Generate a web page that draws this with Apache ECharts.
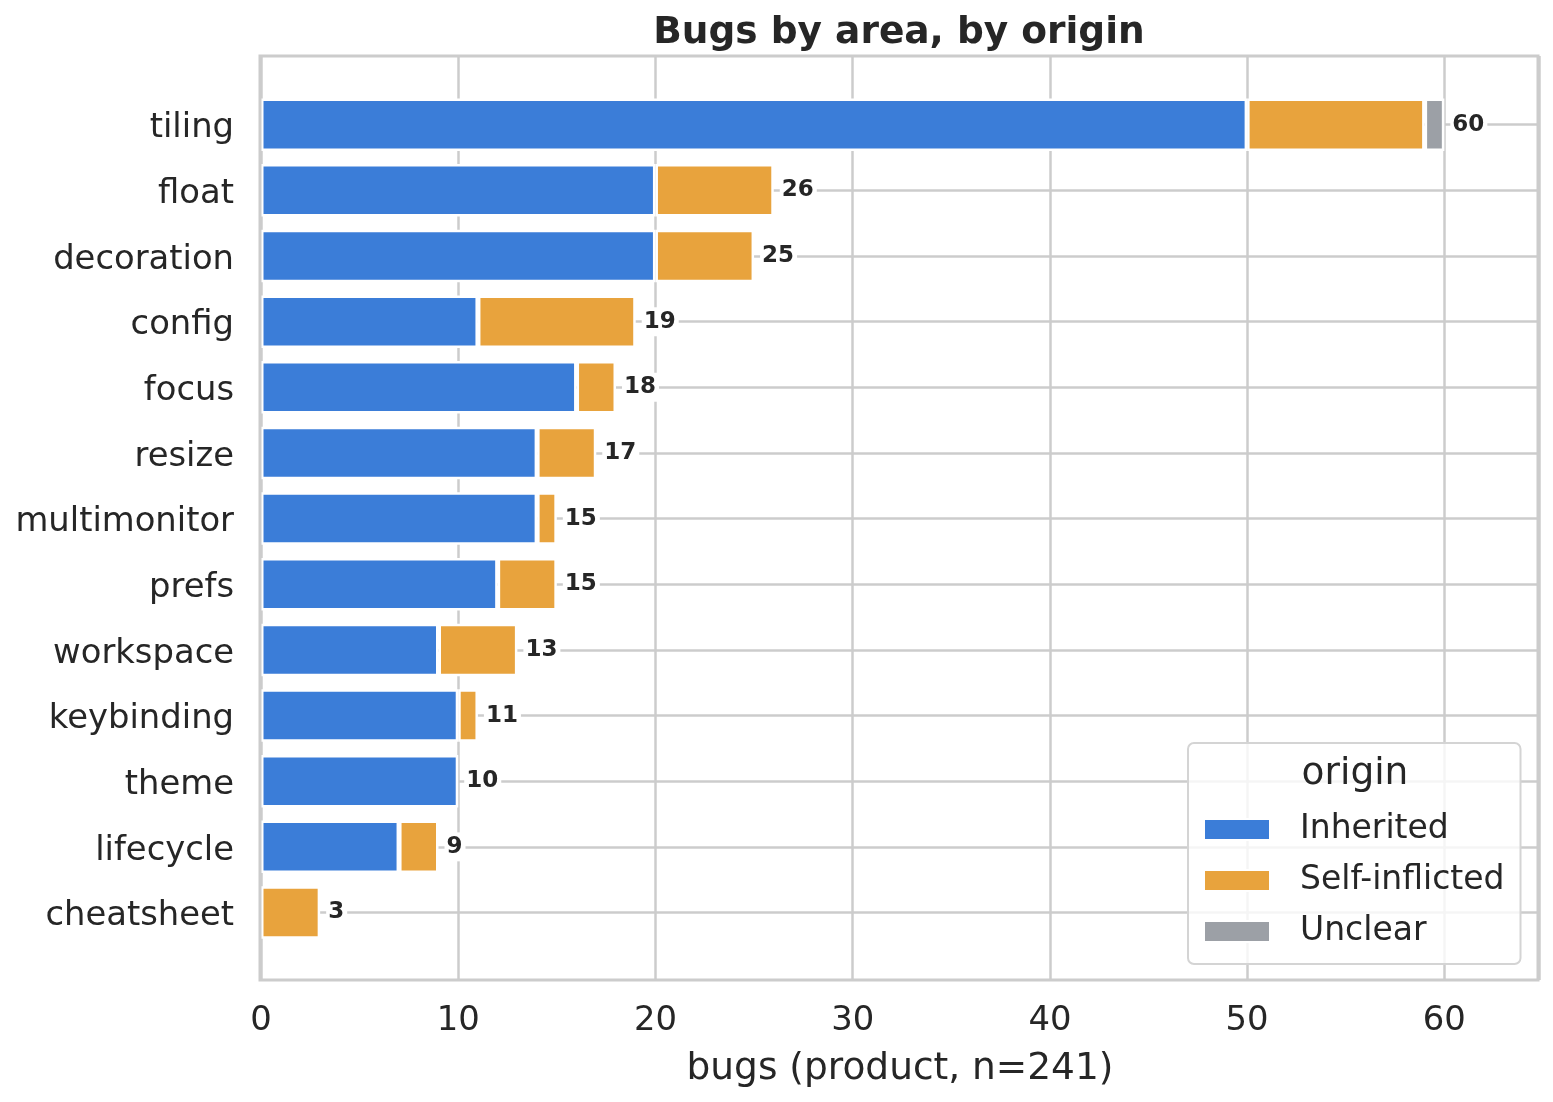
<!DOCTYPE html>
<html>
<head>
<meta charset="utf-8">
<title>Bugs by area, by origin</title>
<script src="https://cdn.jsdelivr.net/npm/echarts@6/dist/echarts.min.js"></script>
<style>
  html, body { margin: 0; padding: 0; background: #fff; }
  #chart { width: 1553px; height: 1102px; }
</style>
</head>
<body>
<div id="chart"></div>
<script>
// 数据
const categories = ['tiling', 'float', 'decoration', 'config', 'focus', 'resize', 'multimonitor',
  'prefs', 'workspace', 'keybinding', 'theme', 'lifecycle', 'cheatsheet'];
const inherited    = [50, 20, 20, 11, 16, 14, 14, 12, 9, 10, 10, 7, 0];
const selfInflicted = [9, 6, 5, 8, 2, 3, 1, 3, 4, 1, 0, 2, 3];
const unclear      = [1, 0, 0, 0, 0, 0, 0, 0, 0, 0, 0, 0, 0];
const xTicks = { min: 0, max: 64.8, interval: 10 };

const FONT = 'DejaVu Sans';
const TEXT = '#262626';
const GRID_LINE = '#cccccc';

// 0 不画
const clean = arr => arr.map(v => (v === 0 ? null : v));
const totals = categories.map((c, i) => inherited[i] + selfInflicted[i] + unclear[i]);

function barSeries(name, data, color) {
  return {
    name: name,
    type: 'bar',
    stack: 'origin',
    xAxisIndex: 0,
    yAxisIndex: 0,
    barWidth: 52.5,
    clip: false,
    itemStyle: { color: color, borderColor: '#fff', borderWidth: 2.5 },
    emphasis: { disabled: true },
    data: clean(data)
  };
}

const option = {
  animation: false,
  textStyle: { fontFamily: FONT, color: TEXT },
  title: {
    text: 'Bugs by area, by origin',
    left: 899,
    top: 14,
    textAlign: 'center',
    padding: 0,
    textStyle: { fontFamily: FONT, fontSize: 37.5, fontWeight: 'bold', color: TEXT }
  },
  legend: {
    data: ['Inherited', 'Self-inflicted', 'Unclear'],
    orient: 'vertical',
    left: 1188,
    top: 743,
    padding: [70, 16, 16, 15],
    itemGap: 18,
    itemWidth: 66,
    itemHeight: 21,
    icon: 'rect',
    backgroundColor: 'rgba(255,255,255,0.8)',
    borderColor: '#d4d4d4',
    borderWidth: 2,
    borderRadius: 6,
    selectedMode: false,
    textStyle: { fontFamily: FONT, fontSize: 33, color: TEXT, padding: [0, 0, 0, 25] }
  },
  grid: [
    // 柱子所在区域 (首尾类目中心)
    { left: 261, right: 14, top: 124.7, height: 787.8, containLabel: false },
    // 外框 + 竖网格线
    { left: 261, right: 14, top: 56, bottom: 122, containLabel: false }
  ],
  xAxis: [
    {
      gridIndex: 0,
      type: 'value',
      min: xTicks.min,
      max: xTicks.max,
      show: false
    },
    {
      gridIndex: 1,
      type: 'value',
      min: xTicks.min,
      max: xTicks.max,
      interval: xTicks.interval,
      name: 'bugs (product, n=241)',
      nameLocation: 'middle',
      nameGap: 70,
      nameTextStyle: { fontFamily: FONT, fontSize: 37.5, color: TEXT },
      axisLine: { show: false },
      axisTick: { show: false },
      axisLabel: { fontFamily: FONT, fontSize: 33.8, color: TEXT, margin: 24, showMaxLabel: false },
      splitLine: { show: true, lineStyle: { color: GRID_LINE, width: 2.5 } }
    }
  ],
  yAxis: [
    {
      gridIndex: 0,
      type: 'category',
      data: categories,
      inverse: true,
      boundaryGap: false,
      axisLine: { show: false },
      axisTick: { show: false },
      axisLabel: {
        margin: 27,
        interval: 0,
        formatter: v => '{l|' + v + '}',
        rich: {
          // 往下挪一点, 和刻度中心对齐
          l: { fontFamily: FONT, fontSize: 33.8, color: TEXT, padding: [8, 0, 0, 0] }
        }
      },
      splitLine: { show: true, interval: 0, lineStyle: { color: GRID_LINE, width: 2.5 } }
    },
    {
      gridIndex: 1,
      type: 'value',
      show: false
    }
  ],
  series: [
    barSeries('Inherited', inherited, '#3b7dd8'),
    barSeries('Self-inflicted', selfInflicted, '#e8a33d'),
    barSeries('Unclear', unclear, '#9ca0a6'),
    {
      // 总数标签
      name: 'total',
      type: 'scatter',
      xAxisIndex: 0,
      yAxisIndex: 0,
      symbolSize: 0,
      clip: false,
      silent: true,
      z: 5,
      itemStyle: { opacity: 1 },
      label: {
        show: true,
        position: 'right',
        distance: 6,
        opacity: 1,
        formatter: p => p.value[0],
        fontFamily: FONT,
        fontSize: 23,
        fontWeight: 'bold',
        color: TEXT,
        backgroundColor: '#fff',
        padding: [3, 3, 3, 2]
      },
      data: totals.map((t, i) => [t, categories[i]])
    }
  ],
  graphic: [
    {
      type: 'rect',
      z: 50,
      silent: true,
      shape: { x: 260, y: 56, width: 1278, height: 924 },
      style: { fill: null, stroke: GRID_LINE, lineWidth: 3 }
    },
    {
      type: 'text',
      z: 60,
      silent: true,
      x: 1355,
      y: 774,
      style: {
        text: 'origin',
        fontFamily: FONT,
        fontSize: 37.5,
        fill: TEXT,
        align: 'center',
        verticalAlign: 'middle'
      }
    }
  ]
};

const myChart = echarts.init(document.getElementById('chart'), null, { renderer: 'canvas' });
myChart.setOption(option);
</script>
</body>
</html>
